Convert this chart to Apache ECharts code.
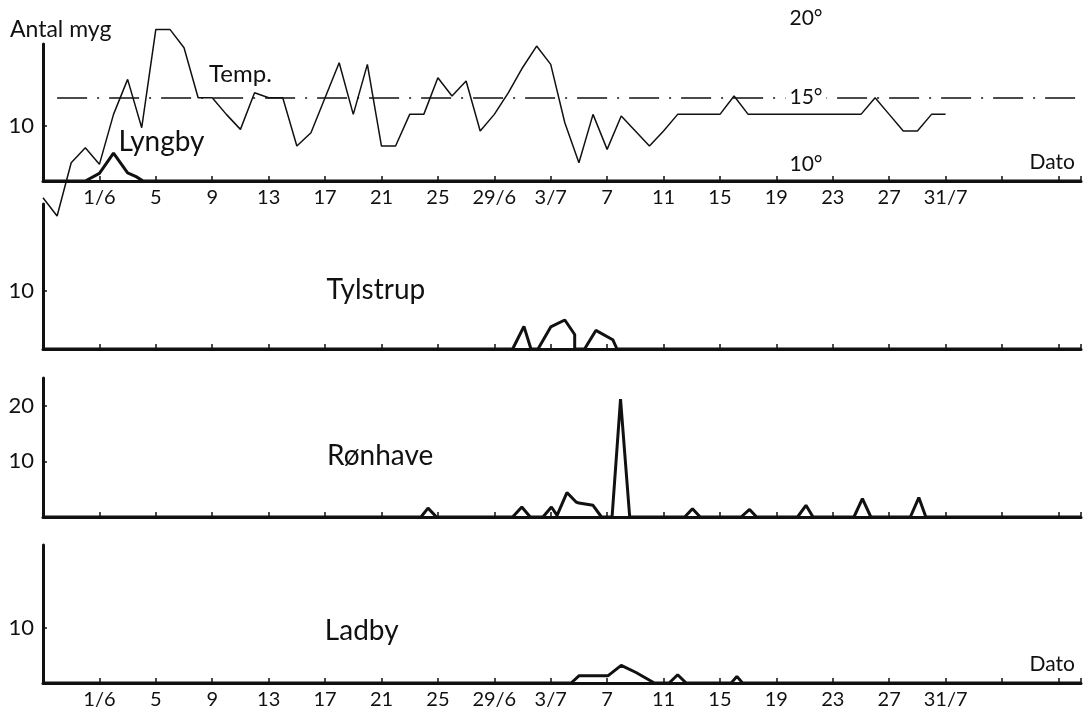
<!DOCTYPE html>
<html>
<head>
<meta charset="utf-8">
<script src="https://cdn.jsdelivr.net/npm/echarts@6/dist/echarts.min.js"></script>
<style>
  html, body { margin: 0; padding: 0; background: #fff; }
  #chart { width: 1088px; height: 721px; }
</style>
</head>
<body>
<div id="chart"></div>
<script>
// x values are days counted from 1/6 (0 = 1 June, 30 = 1 July)
var tickDays = [0, 4, 8, 12, 16, 20, 24, 28, 32, 36, 40, 44, 48, 52, 56, 60];
var tickLabels = ['1/6', '5', '9', '13', '17', '21', '25', '29/6', '3/7', '7', '11', '15', '19', '23', '27', '31/7'];

// daily mean temperature (deg C), Lyngby
var tempDays = [-4, -3, -2, -1, 0, 1, 2, 3, 4, 5, 6, 7, 8, 9, 10, 11, 12, 13, 14, 15, 16, 17, 18, 19, 20,
  21, 22, 23, 24, 25, 26, 27, 28, 29, 30, 31, 32, 33, 34, 35, 36, 37, 38, 39, 40, 41, 42, 43, 44, 45,
  46, 47, 48, 49, 50, 51, 52, 53, 54, 55, 56, 57, 58, 59, 60];
var tempValues = [9.0, 7.9, 11.1, 12.0, 11.0, 14.0, 16.1, 13.2, 19.1, 19.1, 18.0, 15.0, 15.0, 14.0, 13.1,
  15.3, 15.0, 15.0, 12.1, 12.9, 15.0, 17.1, 14.0, 17.0, 12.1, 12.1, 14.0, 14.0, 16.2, 15.1, 16.0, 13.0,
  14.0, 15.3, 16.8, 18.1, 17.0, 13.5, 11.1, 14.0, 11.9, 13.9, 13.0, 12.1, 13.0, 14.0, 14.0, 14.0, 14.0,
  15.1, 14.0, 14.0, 14.0, 14.0, 14.0, 14.0, 14.0, 14.0, 14.0, 15.0, 14.0, 13.0, 13.0, 14.0, 14.0];

// mosquito counts (Antal myg) per station
var lyngbyDays = [-4, -1, 0, 1, 2, 2.6, 3.1, 69.6];
var lyngbyCounts = [0, 0, 1.4, 5.1, 1.5, 0.8, 0, 0];

var tylstrupDays = [-4, 29.3, 30.1, 30.6, 31.1, 32, 33, 33.7, 33.7, 34.4, 35.2, 36.4, 36.7, 69.6];
var tylstrupCounts = [0, 0, 3.9, 0, 0, 3.8, 5, 2.5, 0, 0, 3.2, 1.6, 0, 0];

var ronhaveDays = [-4, 22.8, 23.3, 23.9, 29.3, 29.95, 30.55, 31.45, 32.05, 32.45, 33.15, 33.8, 34.0, 35.0,
  35.6, 36.35, 36.95, 37.6, 41.5, 42.05, 42.6, 45.5, 46.1, 46.6, 49.5, 50.1, 50.6, 53.5, 54.1, 54.7,
  57.5, 58.1, 58.6, 69.6];
var ronhaveCounts = [0, 0, 1.6, 0, 0, 1.8, 0, 0, 1.8, 0.3, 4.4, 2.7, 2.5, 2.1, 0, 0, 21.2, 0, 0, 1.5, 0,
  0, 1.35, 0, 0, 2.1, 0, 0, 3.3, 0, 0, 3.5, 0, 0];

var ladbyDays = [-4, 33.45, 34.0, 36.05, 37.0, 38.05, 39.35, 40.4, 41.0, 41.6, 44.8, 45.2, 45.6, 69.6];
var ladbyCounts = [0, 0, 1.3, 1.3, 3.2, 1.9, 0, 0, 1.5, 0, 0, 1.2, 0, 0];

var FONT = 'Lato';
var INK = '#111';

function pairs(xs, ys) {
  return xs.map(function (x, i) { return [x, ys[i]]; });
}

function textMark(coord, text, size, extra) {
  var lbl = { show: true, position: 'inside', formatter: text, color: INK, fontFamily: FONT, fontSize: size };
  for (var k in extra) lbl[k] = extra[k];
  return { coord: coord, symbol: 'rect', symbolSize: 1, itemStyle: { color: 'rgba(0,0,0,0)' }, label: lbl };
}

function xAxisFor(gridIndex, showLabels, name) {
  return {
    type: 'value', gridIndex: gridIndex, min: -4, max: 69.6, interval: 4,
    axisLine: { onZero: false, lineStyle: { color: INK, width: 3 } },
    axisTick: { inside: true, length: 5, lineStyle: { color: INK, width: 1.5 } },
    splitLine: { show: false },
    axisLabel: {
      show: showLabels, color: INK, fontFamily: FONT, fontSize: 20, margin: 7,
      formatter: function (v) {
        var i = tickDays.indexOf(v);
        return i >= 0 ? tickLabels[i] : '';
      }
    },
    name: name || '', nameLocation: 'end', nameGap: -6,
    nameTextStyle: { color: INK, fontFamily: FONT, fontSize: 21, align: 'right', verticalAlign: 'bottom', padding: [0, 0, 8, 0] }
  };
}

function yAxisFor(gridIndex, labelVals) {
  return {
    type: 'value', gridIndex: gridIndex, min: 0, max: 25, interval: 5,
    axisLine: { show: true, onZero: false, lineStyle: { color: INK, width: 3 } },
    axisTick: { show: true, inside: true, length: 4, customValues: labelVals, lineStyle: { color: INK, width: 1.5 } },
    axisLabel: { color: INK, fontFamily: FONT, fontSize: 22, margin: 9, customValues: labelVals },
    splitLine: { show: false }
  };
}

function countSeries(idx, xs, ys, label, labelCoord) {
  return {
    type: 'line', xAxisIndex: idx, yAxisIndex: idx, data: pairs(xs, ys),
    symbol: 'none', lineStyle: { color: INK, width: 3 }, silent: true,
    markPoint: { silent: true, data: [textMark(labelCoord, label, 28, {})] }
  };
}

var chart = echarts.init(document.getElementById('chart'));
chart.setOption({
  backgroundColor: '#fff',
  animation: false,
  title: {
    text: 'Antal myg', left: 5, top: 13,
    textStyle: { color: INK, fontFamily: FONT, fontSize: 23, fontWeight: 'normal' }
  },
  grid: [
    { left: 43, right: 7, top: 44, height: 137 },
    { left: 43, right: 7, top: 204, height: 145 },
    { left: 43, right: 7, top: 378, height: 139 },
    { left: 43, right: 7, top: 545, height: 138 },
    { left: 43, right: 7, top: 14.4, height: 216.6 }
  ],
  xAxis: [
    xAxisFor(0, true, 'Dato'),
    xAxisFor(1, false),
    xAxisFor(2, false),
    xAxisFor(3, true, 'Dato'),
    { type: 'value', gridIndex: 4, min: -4, max: 69.6, show: false }
  ],
  yAxis: [
    yAxisFor(0, [10]),
    yAxisFor(1, [10]),
    yAxisFor(2, [10, 20]),
    yAxisFor(3, [10]),
    { type: 'value', gridIndex: 4, min: 7, max: 20, show: false }
  ],
  series: [
    countSeries(0, lyngbyDays, lyngbyCounts, 'Lyngby', [4.4, 7.2]),
    countSeries(1, tylstrupDays, tylstrupCounts, 'Tylstrup', [19.6, 10.1]),
    countSeries(2, ronhaveDays, ronhaveCounts, 'Rønhave', [19.9, 10.9]),
    countSeries(3, ladbyDays, ladbyCounts, 'Ladby', [18.6, 9.5]),
    {
      type: 'line', xAxisIndex: 4, yAxisIndex: 4, data: pairs(tempDays, tempValues),
      symbol: 'none', lineStyle: { color: INK, width: 1.5 }, silent: true, z: 3,
      markLine: {
        silent: true, symbol: ['none', 'none'], label: { show: false },
        lineStyle: { color: INK, width: 1.5, type: [30, 10, 2, 10] },
        data: [[{ coord: [-3, 15] }, { coord: [69.6, 15] }]]
      },
      markPoint: {
        silent: true,
        data: [
          textMark([10, 16.4], 'Temp.', 24, {}),
          textMark([50.1, 19.75], '20°', 21, {}),
          textMark([50.1, 15], '15°', 21, { backgroundColor: '#fff', padding: [0, 4] }),
          textMark([50.1, 11], '10°', 21, {})
        ]
      }
    }
  ]
});
</script>
</body>
</html>
